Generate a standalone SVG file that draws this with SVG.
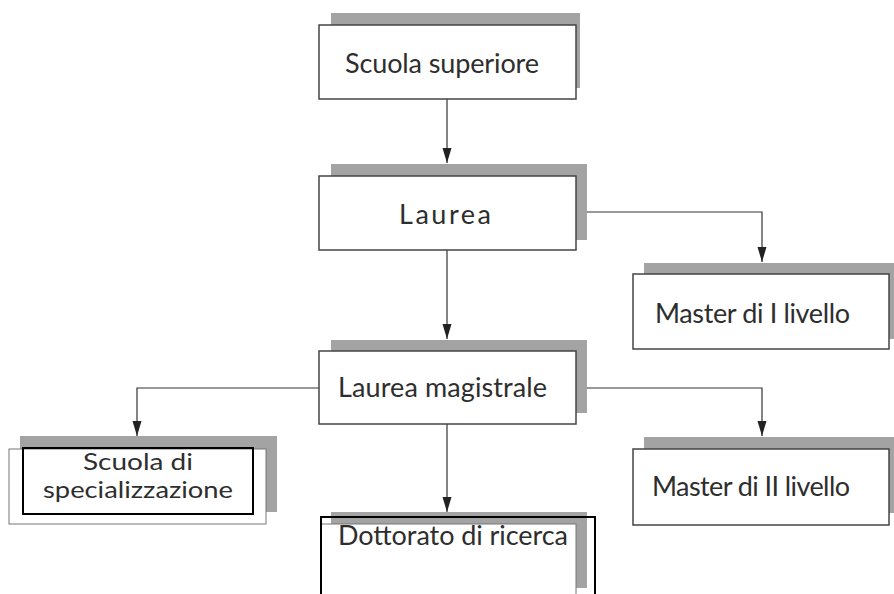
<svg xmlns="http://www.w3.org/2000/svg" width="894" height="594" viewBox="0 0 894 594">
<style>
.sh{fill:#a3a3a3}
.bx{fill:#fff;stroke:#444;stroke-width:1.5}
.bxl{fill:#fff;stroke:#777;stroke-width:1}
.blk{fill:none;stroke:#000;stroke-width:2}
.t{font-family:Lato,"Liberation Sans",Arial,sans-serif;font-size:27px;fill:#2e2e2e}
.s{font-size:23px}
.c{fill:none;stroke:#333;stroke-width:1.2}
</style>
<defs>
<marker id="ah" markerUnits="userSpaceOnUse" markerWidth="16" markerHeight="10" refX="15" refY="5" orient="auto" viewBox="0 0 16 10">
<path d="M0,0.5 L15,5 L0,9.5 z" fill="#222"/>
</marker>
</defs>
<rect width="894" height="594" fill="#fff"/>
<g id="connectors">
<path class="c" d="M447,99 V163" marker-end="url(#ah)"/>
<path class="c" d="M576,212 H762 V262" marker-end="url(#ah)"/>
<path class="c" d="M447,250 V339" marker-end="url(#ah)"/>
<path class="c" d="M319,388 H137 V436" marker-end="url(#ah)"/>
<path class="c" d="M576,388 H762 V436" marker-end="url(#ah)"/>
<path class="c" d="M447,424 V512" marker-end="url(#ah)"/>
</g>
<g id="scuola-superiore">
<rect class="sh" x="331" y="13" width="249" height="75"/>
<rect class="bx" x="319" y="25" width="257" height="74"/>
<text class="t" x="345" y="73" textLength="194">Scuola superiore</text>
</g>
<g id="laurea">
<rect class="sh" x="331" y="164" width="256" height="76"/>
<rect class="bx" x="319" y="176" width="257" height="74"/>
<text class="t" x="399" y="224" textLength="96" letter-spacing="4">Laurea</text>
</g>
<g id="master-1">
<rect class="sh" x="644" y="263" width="252" height="76"/>
<rect class="bx" x="633" y="274" width="256" height="75"/>
<text class="t" x="655" y="323" textLength="195">Master di I livello</text>
</g>
<g id="laurea-magistrale">
<rect class="sh" x="331" y="340" width="256" height="73"/>
<rect class="bx" x="319" y="351" width="257" height="73"/>
<text class="t" x="338" y="397" textLength="209">Laurea magistrale</text>
</g>
<g id="scuola-specializzazione">
<rect class="sh" x="20" y="436" width="257" height="76"/>
<rect class="bxl" x="9" y="449" width="257" height="75"/>
<rect class="blk" x="23" y="448" width="230" height="66"/>
<text class="t s" x="83" y="470" textLength="110" lengthAdjust="spacingAndGlyphs">Scuola di</text>
<text class="t s" x="43" y="498" textLength="190" lengthAdjust="spacingAndGlyphs">specializzazione</text>
</g>
<g id="master-2">
<rect class="sh" x="644" y="437" width="252" height="76"/>
<rect class="bx" x="633" y="449" width="256" height="76"/>
<text class="t" x="652" y="496" textLength="198">Master di II livello</text>
</g>
<g id="dottorato">
<rect class="sh" x="331" y="512" width="256" height="76"/>
<rect class="bxl" x="321" y="524" width="255" height="80"/>
<rect class="blk" x="321" y="517" width="274" height="90"/>
<text class="t" x="338" y="545" textLength="230">Dottorato di ricerca</text>
</g>
</svg>
